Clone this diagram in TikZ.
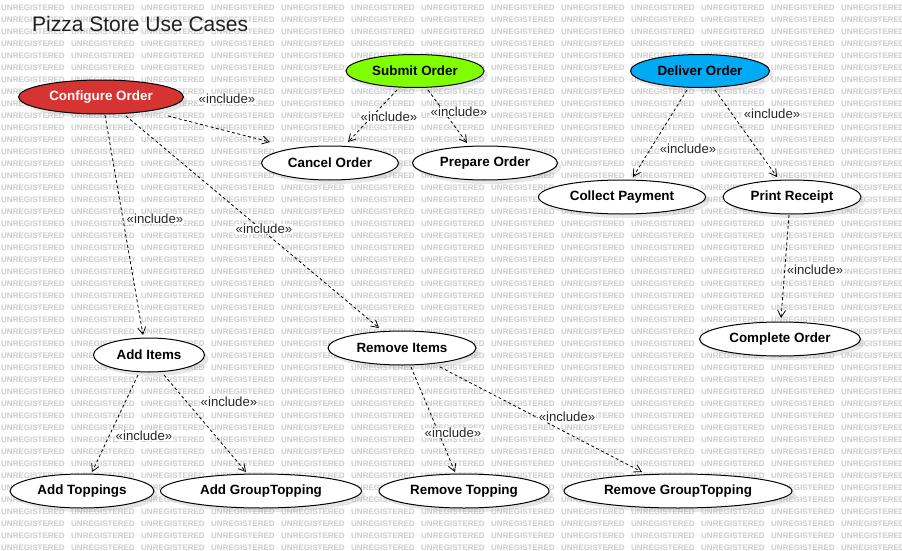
\documentclass[tikz,border=0pt]{standalone}
\usepackage{fontspec}
\setmainfont{Liberation Sans}
\usetikzlibrary{shapes.geometric,arrows.meta,shadows}
\definecolor{cfgred}{HTML}{D63333}
\definecolor{subgreen}{HTML}{80FF00}
\definecolor{delblue}{HTML}{00AAF5}
\begin{document}
\begin{tikzpicture}[x=1pt,y=-1pt,
  uc/.style={ellipse, draw=black, line width=1pt, fill=white, inner sep=0pt,
    minimum height=34pt, font=\fontsize{13.4}{15}\selectfont\bfseries, text=black,
    drop shadow={shadow xshift=4pt, shadow yshift=-4pt, fill=black!30, opacity=0.3}},
  inc/.style={draw=black, line width=0.8pt, dash pattern=on 3pt off 2.5pt,
    -{Straight Barb[length=7pt,width=8pt]}},
  lbl/.style={fill=white, inner sep=0.5pt, font=\fontsize{13.2}{15}\selectfont, text=black!85},
  wm/.style={anchor=west, inner sep=0pt, font=\fontsize{8}{9}\selectfont\bfseries, text=black!20}]

\path[use as bounding box, fill=white] (0,0) rectangle (902,551);
\foreach \r in {0,...,45}{
  \foreach \c in {0,...,12}{
    \node[wm] (wm-\r-\c) at ({1+70*\c},{8+12*\r}) {UNREGISTERED};
  }
}

\node[anchor=west, inner sep=0pt, font=\fontsize{21}{24}\selectfont, text=black!87] (title) at (32,24) {Pizza Store Use Cases};

% use cases
\node[uc, fill=cfgred, text=white, minimum width=165pt] (cfg) at (101,97) {Configure Order};
\node[uc, fill=subgreen, minimum width=138pt, minimum height=33pt] (submit) at (415,71) {Submit Order};
\node[uc, fill=delblue, minimum width=139pt, minimum height=33pt] (deliver) at (700,71) {Deliver Order};
\node[uc, minimum width=137pt] (cancel) at (330,163) {Cancel Order};
\node[uc, minimum width=145pt] (prepare) at (485,163) {Prepare Order};
\node[uc, minimum width=167pt] (collect) at (622,197) {Collect Payment};
\node[uc, minimum width=138pt] (print) at (792,197) {Print Receipt};
\node[uc, minimum width=161pt] (complete) at (780,339) {Complete Order};
\node[uc, minimum width=111pt] (additems) at (149,355) {Add Items};
\node[uc, minimum width=148pt] (removeitems) at (402,348) {Remove Items};
\node[uc, minimum width=144pt] (addtop) at (82,491) {Add Toppings};
\node[uc, minimum width=201pt] (addgroup) at (261,491) {Add GroupTopping};
\node[uc, minimum width=170pt] (remtop) at (464,491) {Remove Topping};
\node[uc, minimum width=228pt] (remgroup) at (678,491) {Remove GroupTopping};

% include connectors
\draw[inc] ([shift={(67,19)}]cfg.center) -- ([shift={(-60,-21)}]cancel.center);
\draw[inc] ([shift={(4,18)}]cfg.center) -- ([shift={(-6,-20)}]additems.center);
\draw[inc] ([shift={(25,19)}]cfg.center) -- ([shift={(-23,-20)}]removeitems.center);
\draw[inc] ([shift={(-18,19)}]submit.center) -- ([shift={(18,-21)}]cancel.center);
\draw[inc] ([shift={(13,19)}]submit.center) -- ([shift={(-18,-20)}]prepare.center);
\draw[inc] ([shift={(-13,19)}]deliver.center) -- ([shift={(11,-20)}]collect.center);
\draw[inc] ([shift={(15,19)}]deliver.center) -- ([shift={(-15,-20)}]print.center);
\draw[inc] ([shift={(-3,18)}]print.center) -- ([shift={(1,-21)}]complete.center);
\draw[inc] ([shift={(-11,20)}]additems.center) -- ([shift={(10,-19)}]addtop.center);
\draw[inc] ([shift={(15,20)}]additems.center) -- ([shift={(-15,-19)}]addgroup.center);
\draw[inc] ([shift={(9,19)}]removeitems.center) -- ([shift={(-9,-19)}]remtop.center);
\draw[inc] ([shift={(38,19)}]removeitems.center) -- ([shift={(-36,-19)}]remgroup.center);

% labels
\node[lbl] (l1) at (227,99) {«include»};
\node[lbl] (l2) at (155,219) {«include»};
\node[lbl] (l3) at (264,229) {«include»};
\node[lbl] (l4) at (389,117) {«include»};
\node[lbl] (l5) at (459,112) {«include»};
\node[lbl] (l6) at (688,149) {«include»};
\node[lbl] (l7) at (772,114) {«include»};
\node[lbl] (l8) at (815,270) {«include»};
\node[lbl] (l9) at (144,436) {«include»};
\node[lbl] (l10) at (229,402) {«include»};
\node[lbl] (l11) at (453,433) {«include»};
\node[lbl] (l12) at (567,417) {«include»};
\end{tikzpicture}
\end{document}
